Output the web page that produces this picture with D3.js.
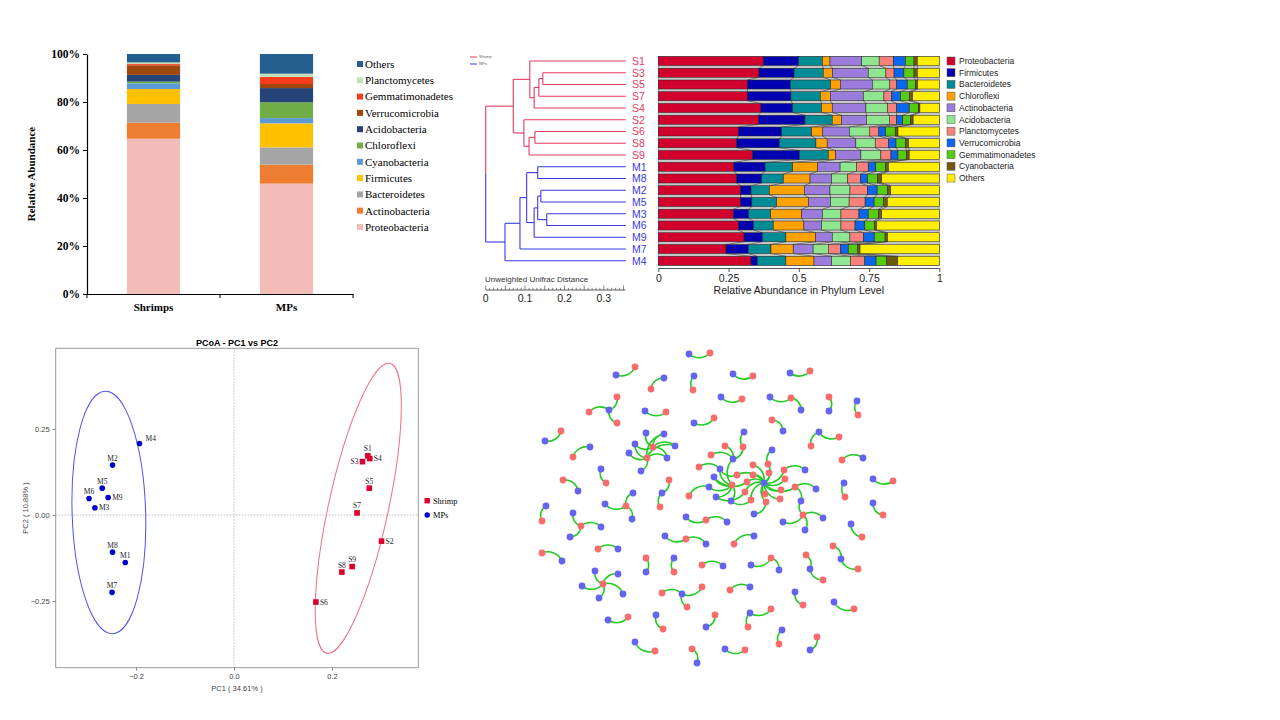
<!DOCTYPE html>
<html><head><meta charset="utf-8">
<script src="https://cdn.jsdelivr.net/npm/d3@7"></script>
<style>body{margin:0;background:#fff}svg{display:block}</style>
</head><body>
<svg id="c" width="1280" height="720"></svg>
<script>
// ================= DATA =================
// Panel 1: stacked bars
const barGroups = ["Shrimps", "MPs"];
const barPhyla = ["Proteobacteria","Actinobacteria","Bacteroidetes","Firmicutes","Cyanobacteria","Chloroflexi","Acidobacteria","Verrucomicrobia","Gemmatimonadetes","Planctomycetes","Others"];
const shrimpValues = [64.7, 6.7, 7.8, 6.2, 2.4, 0.7, 2.8, 4.0, 0.5, 0.7, 3.5];
const mpValues     = [46.0, 7.9, 7.2, 10.0, 2.2, 6.6, 5.9, 1.7, 2.9, 1.4, 8.2];
const barColors = ["#F2BCB8","#ED7D31","#A5A5A5","#FFC000","#5B9BD5","#70AD47","#264478","#9E480E","#FA3C1C","#C5E0B4","#255E91"];
const barTicks = [0, 20, 40, 60, 80, 100];

// Panel 2: dendrogram + relative abundance
const samples = ["S1","S3","S5","S7","S4","S2","S6","S8","S9","M1","M8","M2","M5","M3","M6","M9","M7","M4"];
const heatPhyla = ["Proteobacteria","Firmicutes","Bacteroidetes","Chloroflexi","Actinobacteria","Acidobacteria","Planctomycetes","Verrucomicrobia","Gemmatimonadetes","Cyanobacteria","Others"];
const heatColors = ["#D2002D","#0000B0","#008C96","#FFA200","#9B7BDB","#8EE68E","#F8817A","#0A66EE","#55CC10","#6E5A08","#FFEE00"];
const sampleValues = [
  [37.4,12.5,8.5,2.7,11.3,6.2,5.0,4.3,3.1,1.2,7.8],
  [35.8,12.5,10.4,3.3,12.7,6.3,2.9,3.5,3.6,1.2,7.8],
  [31.7,15.3,14.3,3.5,11.4,6.2,2.4,3.8,2.9,0.8,7.7],
  [31.7,15.5,10.5,3.5,11.8,7.3,2.6,3.3,3.1,1.2,9.5],
  [36.5,11.3,10.3,3.8,12.0,7.7,3.2,4.5,3.2,0.6,6.9],
  [35.6,16.6,9.7,3.3,8.9,8.1,2.6,2.2,2.8,0.9,9.3],
  [28.5,15.4,10.7,3.9,9.5,7.1,3.3,2.5,3.4,1.0,14.7],
  [27.9,15.2,13.0,4.0,10.2,6.9,4.8,2.6,3.4,1.1,10.9],
  [33.5,16.7,10.3,2.6,9.0,7.1,3.6,2.5,3.1,0.9,10.7],
  [26.9,11.1,9.8,8.9,8.0,5.9,4.1,2.7,3.5,1.0,18.1],
  [27.9,8.9,7.7,9.5,7.7,5.7,4.6,2.5,3.6,1.4,20.5],
  [29.3,3.7,6.5,12.5,9.1,7.1,6.3,3.4,3.6,1.2,17.3],
  [29.3,4.0,8.8,11.3,7.9,6.6,5.7,3.2,3.3,1.4,18.5],
  [26.7,5.4,7.9,11.0,7.4,6.6,6.4,3.3,3.6,1.2,20.5],
  [28.5,5.3,7.1,10.9,6.3,6.9,5.0,3.5,3.4,0.8,22.3],
  [30.5,6.5,8.4,10.6,5.9,6.3,4.8,3.9,3.8,0.9,18.4],
  [24.1,7.9,8.1,7.9,7.1,5.4,4.3,2.8,3.2,1.0,28.2],
  [33.0,2.2,10.2,10.0,6.3,6.7,5.1,4.0,3.8,3.9,14.8]
];
const abundTicks = [0, 0.25, 0.5, 0.75, 1];
const distTicks = [0, 0.1, 0.2, 0.3];
const leafDistance = 0.356;
const treeData = {d:0, children:[
  {d:0.070, children:[
    {d:0.112, children:[{name:"S1"}, {d:0.123, children:[{d:0.135, children:[{d:0.145, children:[{name:"S3"},{name:"S5"}]},{name:"S7"}]},{name:"S4"}]}]},
    {d:0.097, children:[{name:"S2"},{d:0.110, children:[{d:0.125, children:[{name:"S6"},{name:"S8"}]},{name:"S9"}]}]}
  ]},
  {d:0.049, children:[
    {d:0.087, children:[
      {d:0.104, children:[
        {d:0.132, children:[{name:"M1"},{name:"M8"}]},
        {d:0.123, children:[{d:0.132, children:[{d:0.140, children:[{name:"M2"},{name:"M5"}]},{d:0.155, children:[{name:"M3"},{name:"M6"}]}]},{name:"M9"}]}
      ]},
      {name:"M7"}
    ]},
    {name:"M4"}
  ]}
]};

// Panel 3: PCoA
const pcoaLabels = ["M4","M2","M5","M6","M9","M3","M8","M1","M7","S1","S4","S3","S5","S7","S2","S9","S8","S6"];
const pc1 = [-0.193,-0.248,-0.269,-0.296,-0.257,-0.284,-0.248,-0.222,-0.249, 0.273,0.277,0.262,0.276,0.251,0.301,0.241,0.220,0.167];
const pc2 = [0.208,0.145,0.078,0.048,0.051,0.021,-0.108,-0.138,-0.225, 0.172,0.164,0.155,0.078,0.006,-0.076,-0.150,-0.166,-0.253];
const pcoaLabelSide = ["tr","t","t","t","r","r","t","t","t","t","r","l","t","t","r","t","t","r"];
const pc1Ticks = [-0.2, 0, 0.2];
const pc2Ticks = [-0.25, 0, 0.25];
// ellipses: major-axis end points (data units) and minor semi-axis in PC1 units
const ellipseMPs = {top:[-0.263,0.360], bottom:[-0.248,-0.345], minor:0.075};
const ellipseShrimp = {top:[0.318,0.441], bottom:[0.189,-0.402], minor:0.061};

// Panel 4: network (layout coordinates) [type, x, y]
const netNodes = [
 ["B",179,14],["R",200,13],["B",106,35],["R",125,27],["R",141,49],["B",154,38],["B",184,36],["R",183,50],["B",223,34],["R",243,36],
 ["B",280,33],["R",300,31],["R",79,72],["B",99,70],["R",107,57],["R",107,83],["B",135,71],["R",156,72],["B",211,57],["R",232,59],
 ["B",260,57],["R",281,58],["B",291,70],["R",319,57],["B",319,71],["B",347,61],["R",348,75],["B",184,83],["R",204,78],["R",262,80],
 ["B",273,91],["B",35,101],["R",51,91],["B",309,92],["R",329,97],["R",301,106],["R",63,117],["B",80,107],["R",143,107],["R",137,118],
 ["B",136,93],["B",154,94],["B",165,106],["B",125,104],["B",119,113],["B",157,118],["B",131,131],["B",91,129],["R",96,143],["R",332,120],
 ["B",353,118],["R",53,140],["B",68,151],["R",159,140],["B",152,153],["R",150,167],["B",334,143],["R",335,157],["B",363,139],["R",383,141],
 ["B",36,166],["R",32,181],["B",95,164],["R",116,166],["B",123,153],["B",122,179],["B",363,163],["R",373,175],["B",63,173],["R",71,186],
 ["B",91,187],["B",60,197],["B",176,177],["R",196,180],["B",217,182],["R",293,175],["B",273,182],["B",295,190],["B",313,178],["B",291,161],
 ["B",341,184],["R",352,197],["B",155,196],["R",176,199],["B",196,204],["R",224,204],["B",244,196],["R",32,213],["B",52,221],["R",88,209],
 ["B",108,209],["R",323,206],["B",331,219],["R",348,229],["R",136,218],["B",136,232],["B",164,218],["R",164,232],["R",192,225],["B",213,226],
 ["B",241,225],["R",261,218],["B",269,230],["R",296,215],["B",300,229],["R",313,240],["R",93,244],["B",85,231],["B",108,234],["B",113,254],
 ["B",89,258],["B",72,246],["R",152,253],["B",172,254],["R",192,247],["R",177,267],["R",220,250],["B",240,247],["B",285,252],["R",293,265],
 ["B",324,262],["R",344,269],["B",98,280],["R",118,277],["B",146,275],["R",153,289],["R",205,275],["B",196,287],["B",240,273],["R",261,269],
 ["R",238,287],["B",272,290],["R",269,304],["R",307,297],["B",300,310],["B",125,302],["R",145,311],["R",182,309],["B",187,323],["B",215,309],
 ["R",235,310],["B",254,143],["R",243,125],["R",258,124],["R",259,133],["R",274,130],["R",275,139],["R",271,150],["R",270,159],["R",255,154],
 ["R",256,162],["R",241,160],["R",235,152],["R",237,142],["R",243,135],["R",227,135],["R",285,147],["B",262,110],["B",295,130],["B",306,149],
 ["B",244,174],["B",234,92],["R",233,107],["B",223,119],["R",215,106],["R",201,115],["R",222,145],["B",199,147],["B",204,137],["B",210,129],
 ["B",206,157],["B",221,161],["R",189,127],["R",179,156]
];
const netLinks = [
 [0,1],[2,3],[5,4],[6,7],[8,9],[10,11],[13,12],[13,14],[13,15],[16,17],[18,19],[20,21],[22,21],[24,23],[25,26],[27,28],[30,29],[31,32],
 [33,34],[33,35],[37,36],[40,38],[41,38],[42,38],[43,38],[45,38],[43,39],[44,39],[45,39],[46,39],[42,39],[41,39],[47,48],[50,49],[52,51],
 [54,53],[54,55],[56,57],[58,59],[60,61],[62,63],[64,63],[65,63],[66,67],[68,69],[70,69],[71,69],[72,73],[74,73],[76,75],[77,75],[78,75],
 [79,75],[80,81],[82,83],[84,83],[86,85],[88,87],[90,89],[92,91],[92,93],[95,94],[96,97],[99,98],[100,101],[102,101],[104,103],[104,105],
 [107,106],[108,106],[109,106],[110,106],[111,106],[113,112],[113,114],[113,115],[117,116],[118,119],[120,121],[122,123],[124,125],[127,126],
 [128,129],[128,130],[131,132],[134,133],[135,136],[138,137],[139,140],
 [141,142],[141,143],[141,144],[141,145],[141,146],[141,147],[141,148],[141,149],[141,150],[141,151],[141,152],[141,153],[141,154],[141,155],[141,156],
 [157,143],[158,145],[159,156],[79,156],[160,150],[161,162],[163,162],[163,164],[163,165],
 [167,166],[168,166],[169,166],[170,166],[171,166],[163,166],[169,172],[167,173],[169,155],[170,152],[171,151],[168,153]
];

// ================= DRAW =================
const svg = d3.select("#c");
const serif = "'Liberation Serif','Times New Roman',serif";
const sans = "'Liberation Sans',Arial,sans-serif";

// ---------- Panel 1 ----------
(function(){
  const g = svg.append("g");
  const y = d3.scaleLinear().domain([0,100]).range([294,54]);
  const x = d3.scaleBand().domain(barGroups).range([87,353]).paddingInner(0.6).paddingOuter(0.3);
  const rows = barGroups.map((grp,i)=>{
    const o = {group:grp};
    const vals = i===0 ? shrimpValues : mpValues;
    barPhyla.forEach((p,j)=>o[p]=vals[j]);
    return o;
  });
  const stack = d3.stack().keys(barPhyla)(rows);
  const color = d3.scaleOrdinal().domain(barPhyla).range(barColors);
  g.selectAll("g.layer").data(stack).join("g").attr("fill",d=>color(d.key))
    .selectAll("rect").data(d=>d).join("rect")
    .attr("x",d=>x(d.data.group)).attr("width",x.bandwidth())
    .attr("y",d=>y(d[1])).attr("height",d=>y(d[0])-y(d[1]));
  const ya = g.append("g").attr("transform","translate(87,0)")
    .call(d3.axisLeft(y).tickValues(barTicks).tickFormat(d=>d+"%").tickSize(4).tickPadding(3).tickSizeOuter(0));
  ya.selectAll("text").style("font-family",serif).style("font-weight","bold").style("font-size","11.5px").attr("fill","#000");
  ya.select(".domain").attr("stroke-width",1.2);
  // x axis
  const xa = g.append("g").attr("transform","translate(0,294)")
    .call(d3.axisBottom(x).tickSize(0).tickPadding(9));
  xa.select(".domain").attr("stroke-width",1.2);
  xa.selectAll("text").style("font-family",serif).style("font-weight","bold").style("font-size","11px").attr("fill","#000");
  const gap = (x.step()-x.bandwidth())/2;
  const bounds = [x(barGroups[0])-gap, x(barGroups[0])+x.bandwidth()+gap, x(barGroups[1])+x.bandwidth()+gap];
  g.selectAll("line.bt").data(bounds).join("line").attr("x1",d=>d).attr("x2",d=>d).attr("y1",294).attr("y2",298).attr("stroke","#000").attr("stroke-width",1);
  g.append("text").attr("transform","translate(35,174) rotate(-90)").attr("text-anchor","middle")
    .style("font-family",serif).style("font-weight","bold").style("font-size","11px").text("Relative Abundance");
  // legend
  const leg = barPhyla.slice().reverse();
  const ly = d3.scalePoint().domain(leg).range([64,227]);
  const lg = g.append("g");
  lg.selectAll("rect").data(leg).join("rect").attr("x",357).attr("y",d=>ly(d)-3).attr("width",6).attr("height",6).attr("fill",d=>color(d));
  lg.selectAll("text").data(leg).join("text").attr("x",365).attr("y",d=>ly(d)+3.8)
    .style("font-family",serif).style("font-size","11px").text(d=>d);
})();

// ---------- Panel 2 ----------
(function(){
  const g = svg.append("g");
  const red = "#E53A60", blue = "#3A3AE0";
  const rowY = d3.scalePoint().domain(samples).range([61,260.75]);
  const distX = d3.scaleLinear().domain([0,0.356]).range([485.7,625.9]);
  const xAb = d3.scaleLinear().domain([0,1]).range([658.3,939.3]);
  const color = d3.scaleOrdinal().domain(heatPhyla).range(heatColors);
  const root = d3.hierarchy(treeData);
  root.eachAfter(n=>{
    n.py = n.children ? d3.mean(n.children,c=>c.py) : rowY(n.data.name);
    n.px = distX(n.children ? n.data.d : leafDistance);
    const leaves = n.leaves().map(l=>l.data.name[0]);
    n.col = leaves.every(c=>c==="S") ? red : (leaves.every(c=>c==="M") ? blue : null);
  });
  const tg = g.append("g").attr("fill","none").attr("stroke-width",1.1);
  root.descendants().forEach(n=>{
    if(n.parent){
      tg.append("line").attr("x1",n.parent.px).attr("x2",n.px).attr("y1",n.py).attr("y2",n.py).attr("stroke",n.col);
    }
    if(n.children){
      const ys = n.children.map(c=>c.py);
      if(n.col){
        tg.append("line").attr("x1",n.px).attr("x2",n.px).attr("y1",d3.min(ys)).attr("y2",d3.max(ys)).attr("stroke",n.col);
      } else {
        tg.append("line").attr("x1",n.px).attr("x2",n.px).attr("y1",n.children[0].py).attr("y2",n.py).attr("stroke",n.children[0].col);
        tg.append("line").attr("x1",n.px).attr("x2",n.px).attr("y1",n.py).attr("y2",n.children[1].py).attr("stroke",n.children[1].col);
      }
    }
  });
  g.selectAll("text.lab").data(samples).join("text").attr("x",632).attr("y",d=>rowY(d)+3.8)
    .attr("fill",d=>d[0]==="S"?red:blue).style("font-family",sans).style("font-size","10.5px").text(d=>d);
  // mini legend
  [["Shrimp",red,57],["MPs",blue,64]].forEach(([t,c,yy])=>{
    g.append("line").attr("x1",470).attr("x2",477).attr("y1",yy).attr("y2",yy).attr("stroke",c).attr("stroke-width",1);
    g.append("text").attr("x",479).attr("y",yy+1.3).style("font-family",sans).style("font-size","4px").attr("fill","#666").text(t);
  });
  // distance ruler
  const rg = g.append("g");
  rg.append("text").attr("x",485).attr("y",282).style("font-family",sans).style("font-size","8px").attr("fill","#333").text("Unweighted Unifrac Distance");
  rg.append("line").attr("x1",distX(0)).attr("x2",distX(0.355)).attr("y1",290).attr("y2",290).attr("stroke","#333").attr("stroke-width",0.8);
  const minor = d3.range(0,0.3551,0.01);
  rg.selectAll("line.t").data(minor).join("line").attr("x1",d=>distX(d)).attr("x2",d=>distX(d))
    .attr("y1",290).attr("y2",(d,i)=> i%5===0 ? 285.5 : 287.8).attr("stroke","#333").attr("stroke-width",0.6);
  rg.selectAll("text.tl").data(distTicks).join("text").attr("x",d=>distX(d)).attr("y",302).attr("text-anchor","middle")
    .style("font-family",sans).style("font-size","10.5px").attr("fill","#222").text(d=>d===0?"0":d3.format(".1f")(d));
  // bars: gray background
  const h = 9;
  g.append("rect").attr("x",xAb(0)).attr("y",rowY(samples[0])-h/2).attr("width",xAb(1)-xAb(0))
    .attr("height",rowY(samples[samples.length-1])-rowY(samples[0])+h).attr("fill","#c6c6c6").attr("stroke","#666").attr("stroke-width",0.5);
  const cums = sampleValues.map(v=>{const t=d3.sum(v); let c=0; return v.map(x=>{const a=c/t; c+=x; return [a,c/t];});});
  // connector lines
  const cg = g.append("g").attr("stroke","#3a3a3a").attr("stroke-width",0.6);
  for(let i=0;i<samples.length-1;i++){
    for(let k=0;k<heatPhyla.length-1;k++){
      cg.append("line").attr("x1",xAb(cums[i][k][1])).attr("y1",rowY(samples[i])+h/2)
        .attr("x2",xAb(cums[i+1][k][1])).attr("y2",rowY(samples[i+1])-h/2);
    }
  }
  samples.forEach((s,i)=>{
    g.append("g").selectAll("rect").data(cums[i]).join("rect")
      .attr("x",d=>xAb(d[0])).attr("width",d=>xAb(d[1])-xAb(d[0]))
      .attr("y",rowY(s)-h/2).attr("height",h)
      .attr("fill",(d,k)=>color(heatPhyla[k])).attr("stroke","#222").attr("stroke-width",0.5);
  });
  const ax = g.append("g").attr("transform","translate(0,268)")
    .call(d3.axisBottom(xAb).tickValues(abundTicks).tickFormat(d3.format("")).tickSize(4).tickSizeOuter(0).tickPadding(3));
  ax.select(".domain").attr("stroke","#555");
  ax.selectAll("line").attr("stroke","#555");
  ax.selectAll("text").style("font-family",sans).style("font-size","10.5px").attr("fill","#222");
  g.append("text").attr("x",(xAb(0)+xAb(1))/2).attr("y",294).attr("text-anchor","middle")
    .style("font-family",sans).style("font-size","10.5px").attr("fill","#222").text("Relative Abundance in Phylum Level");
  // legend
  const ly = d3.scalePoint().domain(heatPhyla).range([61,178]);
  g.selectAll("rect.lg").data(heatPhyla).join("rect").attr("x",947).attr("y",d=>ly(d)-4).attr("width",8).attr("height",8)
    .attr("fill",d=>color(d)).attr("stroke","#555").attr("stroke-width",0.5);
  g.selectAll("text.lg").data(heatPhyla).join("text").attr("x",959).attr("y",d=>ly(d)+3)
    .style("font-family",sans).style("font-size","8.5px").attr("fill","#222").text(d=>d);
})();

// ---------- Panel 3 ----------
(function(){
  const g = svg.append("g");
  const x = d3.scaleLinear().domain([-0.364,0.376]).range([55.7,418.3]);
  const y = d3.scaleLinear().domain([-0.444,0.4846]).range([667.7,348.3]);
  const [x0,x1] = x.range(), [y0,y1] = y.range();
  g.append("line").attr("x1",x(0)).attr("x2",x(0)).attr("y1",y1).attr("y2",y0).attr("stroke","#bbb").attr("stroke-dasharray","1.5,1.5");
  g.append("line").attr("x1",x0).attr("x2",x1).attr("y1",y(0)).attr("y2",y(0)).attr("stroke","#bbb").attr("stroke-dasharray","1.5,1.5");
  g.append("rect").attr("x",x0).attr("y",y1).attr("width",x1-x0).attr("height",y0-y1).attr("fill","none").attr("stroke","#9a9a9a").attr("stroke-width",1);
  const xa = g.append("g").attr("transform",`translate(0,${y0})`).call(d3.axisBottom(x).tickValues(pc1Ticks).tickFormat(d3.format(".1f")).tickSize(3).tickSizeOuter(0));
  const ya = g.append("g").attr("transform",`translate(${x0},0)`).call(d3.axisLeft(y).tickValues(pc2Ticks).tickFormat(d3.format(".2f")).tickSize(3).tickSizeOuter(0));
  [xa,ya].forEach(a=>{a.select(".domain").remove(); a.selectAll("line").attr("stroke","#888");
    a.selectAll("text").style("font-family",sans).style("font-size","7.5px").attr("fill","#444");});
  g.append("text").attr("x",(x0+x1)/2).attr("y",346).attr("text-anchor","middle").style("font-family",sans).style("font-weight","bold").style("font-size","9px").text("PCoA - PC1 vs PC2");
  g.append("text").attr("x",(x0+x1)/2).attr("y",691).attr("text-anchor","middle").style("font-family",sans).style("font-size","7.5px").attr("fill","#444").text("PC1 ( 34.61% )");
  g.append("text").attr("transform","translate(28,508) rotate(-90)").attr("text-anchor","middle").style("font-family",sans).style("font-size","7.5px").attr("fill","#444").text("PC2 ( 10.88% )");
  function ell(e,col){
    const ax=x(e.top[0]), ay=y(e.top[1]), bx=x(e.bottom[0]), by=y(e.bottom[1]);
    const cx=(ax+bx)/2, cy=(ay+by)/2, a=Math.hypot(ax-bx,ay-by)/2;
    const ang=Math.atan2(by-ay,bx-ax)*180/Math.PI;
    const b = x(e.minor)-x(0);
    g.append("ellipse").attr("cx",0).attr("cy",0).attr("rx",a).attr("ry",b).attr("transform",`translate(${cx},${cy}) rotate(${ang})`)
      .attr("fill","none").attr("stroke",col).attr("stroke-width",1);
  }
  ell(ellipseMPs,"#5050EE");
  ell(ellipseShrimp,"#F07085");
  const redC = "#DC0030", blueC = "#0000C8";
  pcoaLabels.forEach((lab,i)=>{
    const px=x(pc1[i]), py=y(pc2[i]);
    if(lab[0]==="S") g.append("rect").attr("x",px-2.8).attr("y",py-2.8).attr("width",5.6).attr("height",5.6).attr("fill",redC);
    else g.append("circle").attr("cx",px).attr("cy",py).attr("r",2.8).attr("fill",blueC);
    const side = pcoaLabelSide[i];
    const t = g.append("text").style("font-family",serif).style("font-size","7.5px").attr("fill","#222").text(lab);
    if(side==="t") t.attr("x",px).attr("y",py-4.5).attr("text-anchor","middle");
    else if(side==="r") t.attr("x",px+4).attr("y",py+2.6);
    else if(side==="l") t.attr("x",px-4).attr("y",py+2.6).attr("text-anchor","end");
    else t.attr("x",px+6).attr("y",py-2.5);
  });
  g.append("rect").attr("x",424.5).attr("y",498).attr("width",5.4).attr("height",5.4).attr("fill",redC);
  g.append("text").attr("x",433).attr("y",503.5).style("font-family",serif).style("font-size","8.3px").text("Shrimp");
  g.append("circle").attr("cx",427.2).attr("cy",515).attr("r",2.7).attr("fill",blueC);
  g.append("text").attr("x",433).attr("y",518).style("font-family",serif).style("font-size","8.3px").text("MPs");
})();

// ---------- Panel 4 ----------
(function(){
  const g = svg.append("g");
  const xN = d3.scaleLinear().domain([0,400]).range([510,910]);
  const yN = d3.scaleLinear().domain([0,340]).range([340,680]);
  g.append("g").attr("fill","none").attr("stroke","#22CC22").attr("stroke-width",1.6)
    .selectAll("path").data(netLinks).join("path").attr("d",([a,b])=>{
      const A=netNodes[a], B=netNodes[b];
      const x1=xN(A[1]), y1=yN(A[2]), x2=xN(B[1]), y2=yN(B[2]);
      const r=Math.hypot(x2-x1,y2-y1)*0.72;
      return `M${x1},${y1}A${r},${r} 0 0 0 ${x2},${y2}`;
    });
  g.append("g").selectAll("circle").data(netNodes).join("circle")
    .attr("cx",d=>xN(d[1])).attr("cy",d=>yN(d[2])).attr("r",3.4)
    .attr("fill",d=>d[0]==="B"?"#6464EE":"#F96C6C");
})();
</script></body></html>
